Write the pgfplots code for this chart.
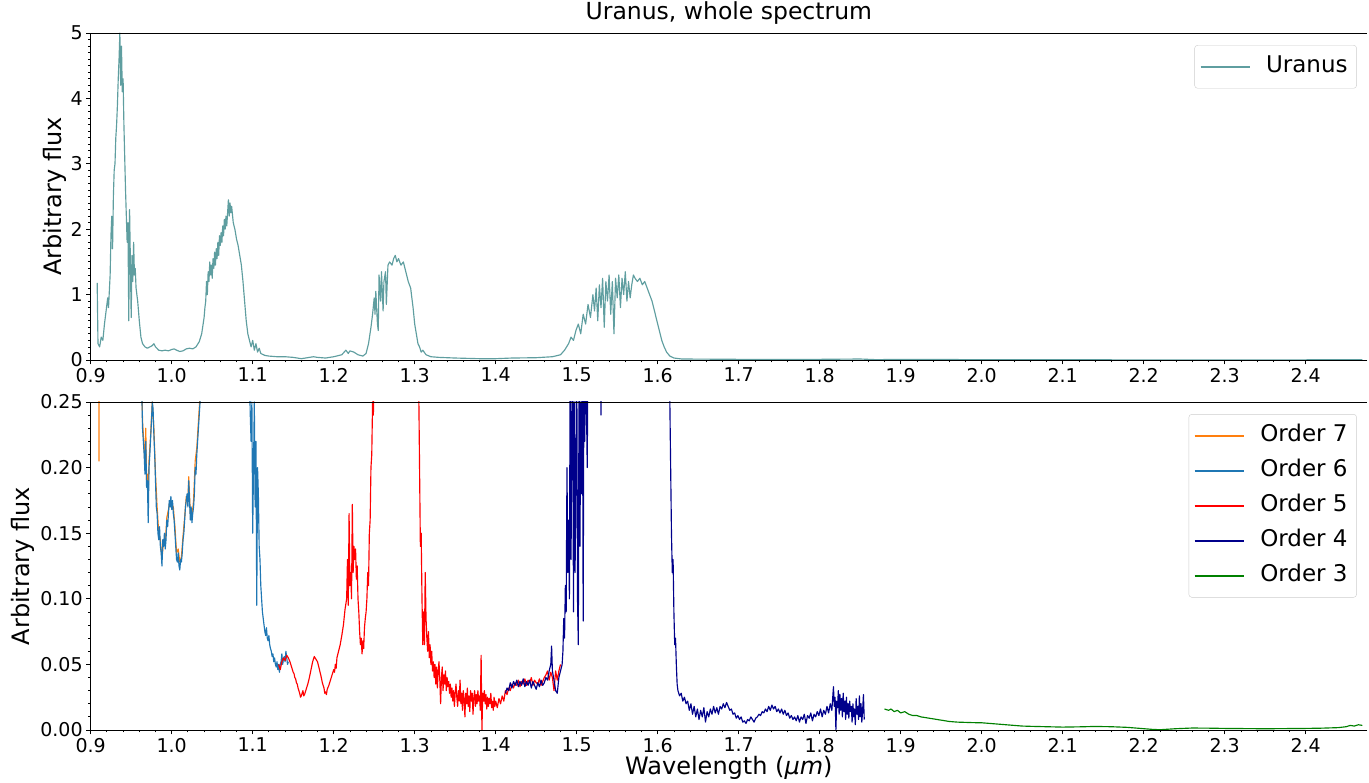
\documentclass[border=0pt]{standalone}
\usepackage{fontspec}
\setmainfont{DejaVu Sans}
\usepackage{pgfplots}
\pgfplotsset{compat=1.18}
\definecolor{cadet}{HTML}{5F9EA0}
\definecolor{o7}{HTML}{FF7F0E}
\definecolor{o6}{HTML}{1F77B4}
\definecolor{o5}{HTML}{FF0000}
\definecolor{o4}{HTML}{00008B}
\definecolor{o3}{HTML}{008000}
\pgfplotsset{
  myax/.style={
    scale only axis, width=1276.3pt, height=327pt,
    xmin=0.9, xmax=2.4757,
    xtick={0.9,1.0,1.1,1.2,1.3,1.4,1.5,1.6,1.7,1.8,1.9,2.0,2.1,2.2,2.3,2.4},
    minor x tick num=4,
    tick pos=left, tick align=outside,
    major tick length=4.5pt, minor tick length=2.5pt,
    every tick/.style={black, line width=0.8pt},
    axis line style={draw=none},
    tick label style={font=\fontsize{19}{22}\selectfont},
    xticklabel style={/pgf/number format/.cd, fixed, fixed zerofill, precision=1, assume math mode=true},
    label style={font=\fontsize{24}{28}\selectfont},
    legend cell align=left,
    legend image code/.code={\draw[#1, line width=1.8pt] (0pt,0pt) -- (49pt,0pt); \path (61pt,0pt);},
    legend style={draw=black!20, rounded corners=3pt, fill=white,
      inner xsep=5pt, inner ysep=4pt,
      font=\fontsize{23}{27}\selectfont,
      nodes={inner xsep=4pt, inner ysep=6.5pt, text height=17pt, text depth=5pt},
      row sep=0pt},
    every axis plot/.append style={line width=1.15pt, line join=round, no markers},
  }
}
\begin{document}
\begin{tikzpicture}
\useasboundingbox (-90.7pt,-423pt) rectangle (1278.3pt,360pt);
% ---------- top panel ----------
\begin{axis}[myax, name=top, at={(0pt,0pt)}, anchor=south west,
  ymin=0, ymax=5, ytick={0,1,2,3,4,5}, minor y tick num=9,
  yticklabel style={/pgf/number format/assume math mode=true},
  ylabel={Arbitrary flux},
  ylabel style={at={(axis description cs:-0.028,0.5)}, anchor=center},
  title={Uranus, whole spectrum},
  title style={at={(axis description cs:0.5,1.043)}, anchor=center, font=\fontsize{23.5}{28}\selectfont},
  legend style={at={(axis description cs:0.992,0.963)}, anchor=north east},
]
\addplot[cadet] coordinates {
(0.908,1.18)(0.909,0.25)(0.911,0.2)(0.913,0.35)(0.915,0.3)(0.917,0.55)(0.919,0.75)(0.921,0.95)(0.922,0.8)
(0.924,1.3)(0.925,1.9)(0.926,2.2)(0.927,1.7)(0.928,2.5)(0.929,2.9)(0.930,3.0)(0.931,3.4)(0.932,3.6)(0.933,3.9)
(0.934,4.3)(0.935,4.6)(0.936,5.0)(0.937,4.2)(0.938,4.8)(0.939,4.1)(0.940,4.3)(0.941,3.6)(0.942,3.1)(0.943,2.6)
(0.944,2.2)(0.945,1.8)(0.946,2.1)(0.947,0.6)(0.948,2.3)(0.949,1.5)(0.950,0.65)(0.951,1.6)(0.952,1.2)(0.953,1.8)
(0.954,1.3)(0.955,1.4)(0.956,1.1)(0.958,0.9)(0.960,0.6)(0.962,0.35)(0.964,0.25)(0.967,0.2)(0.970,0.18)(0.973,0.2)
(0.976,0.22)(0.978,0.25)(0.980,0.2)(0.984,0.15)(0.988,0.14)(0.992,0.15)(0.996,0.14)(1.000,0.16)(1.003,0.17)
(1.006,0.15)(1.010,0.13)(1.014,0.14)(1.018,0.17)(1.022,0.18)(1.026,0.17)(1.030,0.2)(1.034,0.28)(1.037,0.4)
(1.040,0.65)(1.041,0.8)(1.042,0.9)(1.043,1.2)(1.044,1.0)(1.045,1.35)(1.046,1.2)(1.047,1.5)(1.048,1.3)(1.049,1.45)
(1.050,1.25)(1.051,1.55)(1.052,1.4)(1.053,1.65)(1.054,1.45)(1.055,1.7)(1.056,1.55)(1.057,1.8)(1.058,1.6)(1.059,1.9)
(1.060,1.75)(1.061,1.95)(1.062,1.8)(1.063,2.05)(1.064,1.9)(1.065,2.15)(1.066,2.0)(1.067,2.2)(1.068,2.05)(1.070,2.45)
(1.071,2.2)(1.072,2.4)(1.073,2.25)(1.074,2.35)(1.076,2.1)
(1.078,2.0)(1.080,1.85)(1.082,1.75)(1.084,1.6)(1.086,1.45)(1.088,1.2)(1.090,0.9)(1.092,0.6)(1.094,0.4)(1.096,0.3)
(1.098,0.2)(1.100,0.3)(1.102,0.15)(1.104,0.25)(1.106,0.12)(1.108,0.18)(1.110,0.1)(1.115,0.07)(1.120,0.06)
(1.130,0.05)(1.140,0.05)(1.150,0.04)(1.160,0.02)(1.170,0.04)(1.175,0.05)(1.180,0.04)(1.190,0.03)(1.200,0.05)
(1.210,0.08)(1.215,0.15)(1.218,0.1)(1.220,0.14)(1.225,0.12)(1.230,0.08)(1.236,0.06)(1.240,0.1)(1.243,0.25)
(1.246,0.5)(1.248,0.7)(1.250,0.95)(1.251,0.7)(1.252,1.05)(1.254,0.55)(1.255,0.45)(1.256,1.3)(1.258,0.9)
(1.259,1.35)(1.261,0.75)(1.262,1.2)(1.264,1.35)(1.265,0.85)(1.267,1.45)(1.269,1.5)(1.272,1.45)(1.274,1.55)
(1.276,1.6)(1.278,1.5)(1.280,1.55)(1.283,1.45)(1.286,1.5)(1.289,1.35)(1.292,1.2)(1.295,1.1)(1.298,0.8)
(1.300,0.55)(1.302,0.4)(1.304,0.25)(1.306,0.2)(1.308,0.12)(1.310,0.15)(1.314,0.08)(1.320,0.05)(1.330,0.04)
(1.350,0.03)(1.380,0.02)(1.400,0.02)(1.420,0.03)(1.450,0.035)(1.470,0.05)(1.480,0.08)(1.485,0.15)(1.490,0.25)
(1.493,0.35)(1.496,0.3)(1.499,0.45)(1.502,0.55)(1.505,0.4)(1.508,0.7)(1.511,0.55)(1.514,0.85)(1.517,0.65)
(1.520,1.0)(1.522,0.75)(1.524,1.1)(1.526,0.6)(1.528,1.15)(1.530,0.8)(1.532,1.25)(1.534,0.5)(1.536,1.2)
(1.538,0.9)(1.540,1.3)(1.542,0.7)(1.544,1.2)(1.546,0.4)(1.548,1.25)(1.550,0.95)(1.552,1.3)(1.554,0.8)
(1.556,1.25)(1.558,1.0)(1.560,1.35)(1.562,0.9)(1.564,1.2)(1.566,0.95)(1.568,1.15)(1.570,1.3)(1.572,1.25)
(1.575,1.2)(1.578,1.25)(1.581,1.15)(1.584,1.2)(1.587,1.1)(1.590,1.0)(1.593,0.9)(1.596,0.75)(1.599,0.6)
(1.602,0.45)(1.605,0.3)(1.608,0.2)(1.611,0.12)(1.615,0.06)(1.620,0.03)(1.630,0.015)(1.700,0.01)(1.800,0.01)
(1.850,0.015)(1.870,0.005)(1.900,0.01)(2.000,0.005)(2.200,0.002)(2.300,0.002)(2.470,0.003)
};
\addlegendentry{Uranus}
\end{axis}
\draw[line width=0.8pt] (top.south east) -- (top.south west) -- (top.north west) -- (top.north east);
% ---------- bottom panel ----------
\begin{axis}[myax, name=bot, at={(0pt,-42pt)}, anchor=north west, height=328pt,
  ymin=0, ymax=0.25, ytick={0,0.05,0.1,0.15,0.2,0.25}, minor y tick num=4,
  yticklabel style={/pgf/number format/.cd, fixed, fixed zerofill, precision=2, assume math mode=true},
  ylabel={Arbitrary flux},
  ylabel style={at={(axis description cs:-0.053,0.5)}, anchor=center},
  xlabel={Wavelength ({\itshape μm})},
  xlabel style={at={(axis description cs:0.5,-0.116)}, anchor=center},
  legend style={at={(axis description cs:0.992,0.963)}, anchor=north east},
]
\addplot[o7] coordinates {
(0.910,0.4)(0.9102,0.205)(0.9105,0.45)(0.93,3.0)(0.95,1.0)(0.962,0.3)(0.964,0.235)(0.966,0.215)(0.967,0.2)
(0.968,0.23)(0.969,0.19)(0.970,0.195)(0.971,0.18)(0.972,0.205)(0.974,0.225)(0.976,0.25)(0.978,0.23)(0.980,0.195)
(0.982,0.17)(0.984,0.15)(0.986,0.145)(0.988,0.13)(0.990,0.145)(0.992,0.142)(0.994,0.162)(0.996,0.168)(0.998,0.175)
(1.000,0.172)(1.002,0.17)(1.004,0.155)(1.006,0.135)(1.008,0.138)(1.010,0.128)(1.012,0.132)(1.014,0.148)
(1.016,0.162)(1.018,0.178)(1.020,0.174)(1.021,0.193)(1.023,0.165)(1.025,0.162)(1.027,0.175)(1.029,0.205)
(1.031,0.215)(1.033,0.235)(1.035,0.255)(1.038,0.4)
};
\addlegendentry{Order 7}
\addplot[o6] coordinates {
(0.955,0.6)(0.963,0.26)(0.964,0.23)(0.966,0.21)(0.967,0.195)(0.968,0.22)(0.969,0.185)(0.970,0.19)(0.971,0.158)
(0.972,0.2)(0.973,0.21)(0.975,0.235)(0.976,0.25)(0.977,0.245)(0.978,0.225)(0.979,0.21)(0.980,0.19)(0.981,0.17)
(0.982,0.165)(0.983,0.15)(0.984,0.145)(0.985,0.155)(0.986,0.14)(0.987,0.135)(0.988,0.125)(0.989,0.145)(0.990,0.14)
(0.991,0.15)(0.992,0.138)(0.993,0.145)(0.994,0.16)(0.995,0.155)(0.996,0.165)(0.997,0.175)(0.998,0.17)(0.999,0.178)
(1.000,0.168)(1.001,0.175)(1.002,0.165)(1.003,0.16)(1.004,0.15)(1.005,0.14)(1.006,0.13)(1.007,0.128)(1.008,0.135)
(1.009,0.125)(1.010,0.122)(1.011,0.13)(1.012,0.128)(1.013,0.135)(1.014,0.145)(1.015,0.15)(1.016,0.16)(1.017,0.17)
(1.018,0.175)(1.019,0.18)(1.020,0.17)(1.021,0.19)(1.022,0.175)(1.023,0.16)(1.024,0.17)(1.025,0.158)(1.026,0.165)
(1.027,0.17)(1.028,0.18)(1.029,0.2)(1.030,0.195)(1.031,0.21)(1.032,0.22)(1.033,0.23)(1.034,0.24)(1.035,0.25)
(1.036,0.26)(1.040,0.6)(1.090,0.5)(1.095,0.3)(1.097,0.24)(1.098,0.22)(1.099,0.25)(1.100,0.15)(1.101,0.2)(1.102,0.25)
(1.103,0.17)(1.104,0.22)(1.105,0.095)(1.106,0.2)(1.107,0.18)(1.108,0.14)(1.109,0.13)(1.110,0.11)(1.111,0.1)
(1.112,0.09)(1.113,0.085)(1.114,0.08)(1.115,0.075)(1.116,0.072)(1.117,0.078)(1.118,0.07)(1.119,0.068)(1.120,0.072)
(1.121,0.065)(1.122,0.062)(1.123,0.06)(1.124,0.056)(1.125,0.058)(1.126,0.052)(1.127,0.055)(1.128,0.05)(1.129,0.048)
(1.130,0.052)(1.131,0.046)(1.132,0.05)(1.133,0.044)(1.134,0.05)(1.135,0.052)(1.136,0.058)(1.137,0.05)(1.138,0.054)
(1.139,0.056)(1.140,0.052)(1.141,0.06)(1.142,0.055)(1.143,0.05)(1.144,0.052)
};
\addlegendentry{Order 6}
\addplot[o5] coordinates {
(1.132,0.05)(1.134,0.046)(1.136,0.052)(1.138,0.055)(1.140,0.053)(1.142,0.057)(1.144,0.055)(1.146,0.052)(1.148,0.048)
(1.150,0.044)(1.151,0.043)(1.152,0.04)(1.153,0.039)(1.154,0.036)(1.155,0.035)(1.156,0.032)(1.157,0.03)(1.158,0.028)
(1.159,0.025)(1.160,0.026)(1.161,0.028)(1.162,0.03)(1.163,0.026)(1.164,0.027)(1.165,0.029)(1.166,0.031)
(1.168,0.035)(1.170,0.04)(1.172,0.046)(1.174,0.052)(1.176,0.056)(1.178,0.054)(1.180,0.052)(1.182,0.047)(1.184,0.042)
(1.186,0.036)(1.188,0.032)(1.189,0.028)(1.190,0.029)(1.191,0.027)(1.192,0.031)(1.194,0.034)(1.196,0.038)(1.198,0.042)
(1.200,0.046)(1.201,0.044)(1.202,0.05)(1.203,0.047)(1.204,0.055)(1.206,0.06)(1.208,0.065)(1.210,0.072)(1.212,0.08)
(1.214,0.092)(1.216,0.1)(1.217,0.13)(1.218,0.095)
(1.219,0.165)(1.220,0.11)(1.221,0.12)(1.222,0.1)(1.223,0.172)(1.224,0.12)(1.225,0.14)(1.226,0.13)(1.227,0.138)
(1.228,0.115)(1.229,0.125)(1.230,0.1)(1.231,0.09)(1.232,0.075)(1.233,0.065)(1.234,0.07)(1.235,0.058)(1.236,0.068)
(1.237,0.062)(1.238,0.078)(1.239,0.085)(1.240,0.09)(1.241,0.1)(1.242,0.12)(1.243,0.11)(1.244,0.15)(1.245,0.16)
(1.246,0.2)(1.247,0.21)(1.248,0.25)(1.249,0.24)(1.250,0.3)(1.255,0.6)(1.300,0.6)(1.305,0.26)(1.306,0.2)(1.307,0.14)
(1.308,0.15)(1.309,0.1)(1.310,0.065)(1.311,0.09)(1.312,0.065)(1.313,0.12)(1.314,0.085)(1.315,0.07)(1.316,0.06)
(1.317,0.075)(1.318,0.055)(1.319,0.065)(1.320,0.05)(1.321,0.06)(1.322,0.045)(1.323,0.052)(1.324,0.04)(1.325,0.05)
(1.326,0.035)(1.327,0.048)(1.328,0.032)(1.329,0.045)(1.330,0.052)(1.331,0.038)(1.332,0.02)(1.333,0.04)(1.334,0.048)
(1.335,0.03)(1.336,0.042)(1.337,0.035)(1.338,0.045)(1.339,0.03)(1.340,0.04)(1.341,0.033)(1.342,0.037)(1.343,0.028)
(1.344,0.035)(1.345,0.025)(1.346,0.032)(1.347,0.022)(1.348,0.03)(1.349,0.018)(1.350,0.028)(1.351,0.035)(1.352,0.025)
(1.353,0.018)(1.354,0.03)(1.355,0.022)(1.356,0.038)(1.357,0.02)(1.358,0.028)(1.359,0.015)(1.360,0.03)(1.361,0.024)
(1.362,0.01)(1.363,0.028)(1.364,0.02)(1.365,0.032)(1.366,0.018)(1.367,0.026)(1.368,0.014)(1.369,0.03)(1.370,0.022)
(1.371,0.028)(1.372,0.012)(1.373,0.025)(1.374,0.03)(1.375,0.018)(1.376,0.027)(1.377,0.02)(1.378,0.03)(1.379,0.022)
(1.380,0.026)(1.381,0.015)(1.382,0.057)(1.383,0.0)(1.384,0.028)(1.385,0.022)(1.386,0.03)(1.387,0.02)(1.388,0.027)
(1.389,0.016)(1.390,0.025)(1.391,0.018)(1.392,0.024)(1.393,0.02)(1.394,0.028)(1.395,0.017)(1.396,0.022)(1.397,0.015)
(1.398,0.025)(1.399,0.018)(1.400,0.022)(1.402,0.017)(1.404,0.024)(1.406,0.02)(1.408,0.026)(1.410,0.022)(1.412,0.03)
(1.414,0.027)(1.416,0.032)(1.418,0.03)(1.420,0.035)(1.422,0.032)(1.424,0.036)(1.426,0.034)(1.428,0.038)(1.430,0.033)
(1.432,0.037)(1.434,0.035)(1.436,0.039)(1.438,0.034)(1.440,0.038)(1.442,0.036)(1.444,0.04)(1.446,0.034)(1.448,0.038)
(1.450,0.036)(1.452,0.035)(1.454,0.039)(1.456,0.034)(1.458,0.037)(1.460,0.04)(1.462,0.042)(1.464,0.045)(1.466,0.038)
(1.468,0.044)(1.470,0.04)(1.472,0.03)(1.474,0.045)(1.476,0.038)(1.478,0.045)(1.480,0.05)
};
\addlegendentry{Order 5}
\addplot[o4] coordinates {
(1.412,0.028)(1.414,0.032)(1.416,0.03)(1.418,0.036)(1.420,0.032)(1.422,0.037)(1.424,0.034)(1.426,0.038)(1.428,0.033)
(1.430,0.037)(1.432,0.034)(1.434,0.039)(1.436,0.033)(1.438,0.037)(1.440,0.034)(1.442,0.038)(1.444,0.032)(1.446,0.037)
(1.448,0.034)(1.450,0.031)(1.452,0.036)(1.454,0.033)(1.456,0.038)(1.458,0.034)(1.460,0.036)(1.462,0.04)(1.464,0.038)
(1.466,0.045)(1.468,0.05)(1.469,0.064)(1.470,0.045)(1.472,0.038)(1.474,0.03)(1.476,0.028)(1.478,0.04)(1.480,0.045)
(1.482,0.05)(1.483,0.06)(1.484,0.085)(1.485,0.07)(1.486,0.11)(1.487,0.09)(1.488,0.2)(1.489,0.12)(1.490,0.16)
(1.491,0.1)(1.492,0.3)(1.493,0.13)(1.494,0.22)(1.495,0.3)(1.496,0.09)(1.497,0.25)(1.498,0.12)(1.499,0.2)(1.500,0.3)
(1.501,0.1)(1.502,0.065)(1.503,0.3)(1.504,0.14)(1.505,0.25)(1.506,0.18)(1.507,0.3)(1.508,0.083)(1.509,0.3)
(1.510,0.22)(1.511,0.3)(1.513,0.2)(1.515,0.4)(1.520,0.8)(1.529,0.9)(1.530,0.24)(1.531,0.9)(1.610,0.9)(1.612,0.6)
(1.614,0.3)(1.615,0.25)(1.616,0.2)(1.617,0.15)(1.618,0.12)(1.619,0.13)(1.620,0.09)(1.621,0.065)(1.622,0.07)
(1.623,0.05)(1.624,0.035)(1.625,0.03)(1.627,0.026)(1.629,0.028)(1.631,0.022)(1.633,0.025)(1.635,0.02)(1.637,0.022)
(1.639,0.015)(1.641,0.02)(1.643,0.012)(1.645,0.018)(1.647,0.01)(1.649,0.016)(1.651,0.008)(1.653,0.015)(1.655,0.01)
(1.657,0.017)(1.659,0.006)(1.661,0.014)(1.663,0.01)(1.665,0.016)(1.667,0.012)(1.669,0.018)(1.671,0.013)(1.673,0.017)
(1.675,0.012)(1.677,0.018)(1.679,0.016)(1.681,0.02)(1.683,0.017)(1.685,0.021)(1.687,0.018)(1.689,0.015)(1.691,0.016)
(1.693,0.012)(1.695,0.013)(1.697,0.009)(1.699,0.011)(1.701,0.008)(1.703,0.01)(1.705,0.006)(1.707,0.007)(1.709,0.005)
(1.711,0.008)(1.713,0.007)(1.715,0.01)(1.717,0.008)(1.719,0.006)(1.721,0.009)(1.723,0.01)(1.725,0.012)(1.727,0.011)
(1.729,0.014)(1.731,0.013)(1.733,0.016)(1.735,0.014)(1.737,0.018)(1.739,0.015)(1.741,0.019)(1.743,0.016)(1.745,0.018)
(1.747,0.014)(1.749,0.016)(1.751,0.013)(1.753,0.016)(1.755,0.012)(1.757,0.015)(1.759,0.011)(1.761,0.013)(1.763,0.009)
(1.765,0.011)(1.767,0.008)(1.769,0.01)(1.771,0.007)(1.773,0.011)(1.775,0.006)(1.777,0.01)(1.779,0.008)(1.781,0.012)
(1.783,0.005)(1.785,0.011)(1.787,0.009)(1.789,0.013)(1.791,0.007)(1.793,0.012)(1.795,0.01)(1.797,0.014)(1.799,0.011)
(1.801,0.016)(1.803,0.01)(1.805,0.015)(1.807,0.012)(1.809,0.018)(1.811,0.013)(1.813,0.02)(1.815,0.015)(1.817,0.033)
(1.818,0.018)(1.819,0.025)(1.820,0.0)(1.821,0.022)(1.822,0.017)(1.823,0.03)(1.824,0.012)(1.825,0.027)(1.826,0.015)
(1.827,0.024)(1.828,0.01)(1.829,0.028)(1.830,0.014)(1.831,0.022)(1.832,0.008)(1.833,0.025)(1.834,0.012)(1.835,0.02)
(1.836,0.009)(1.837,0.022)(1.838,0.014)(1.839,0.018)(1.840,0.006)(1.841,0.02)(1.842,0.01)(1.843,0.016)(1.844,0.004)
(1.845,0.024)(1.846,0.012)(1.847,0.018)(1.848,0.008)(1.849,0.026)(1.850,0.01)(1.851,0.02)(1.852,0.006)(1.853,0.015)
(1.854,0.027)(1.855,0.008)
};
\addlegendentry{Order 4}
\addplot[o3] coordinates {
(1.880,0.016)(1.885,0.015)(1.888,0.016)(1.892,0.014)(1.896,0.015)(1.900,0.013)(1.905,0.014)(1.910,0.012)(1.915,0.011)
(1.920,0.011)(1.925,0.01)(1.930,0.0095)(1.935,0.009)(1.940,0.0085)(1.950,0.0075)(1.960,0.0065)(1.970,0.006)
(1.980,0.0058)(1.990,0.0056)(2.000,0.0055)(2.010,0.005)(2.020,0.0045)(2.030,0.004)(2.040,0.0035)(2.050,0.003)
(2.060,0.0028)(2.080,0.0025)(2.100,0.0022)(2.120,0.0024)(2.140,0.0027)(2.160,0.0025)(2.180,0.002)(2.200,0.001)
(2.210,0.0005)(2.220,0.0002)(2.230,0.0006)(2.240,0.001)(2.260,0.0015)(2.280,0.0014)(2.300,0.0012)(2.320,0.0011)
(2.340,0.001)(2.360,0.001)(2.380,0.0011)(2.400,0.0012)(2.420,0.0014)(2.440,0.0018)(2.450,0.0025)(2.455,0.0035)
(2.460,0.003)(2.465,0.004)(2.470,0.0035)
};
\addlegendentry{Order 3}
\end{axis}
\draw[line width=0.8pt] (bot.south east) -- (bot.south west) -- (bot.north west) -- (bot.north east);
\end{tikzpicture}
\end{document}
